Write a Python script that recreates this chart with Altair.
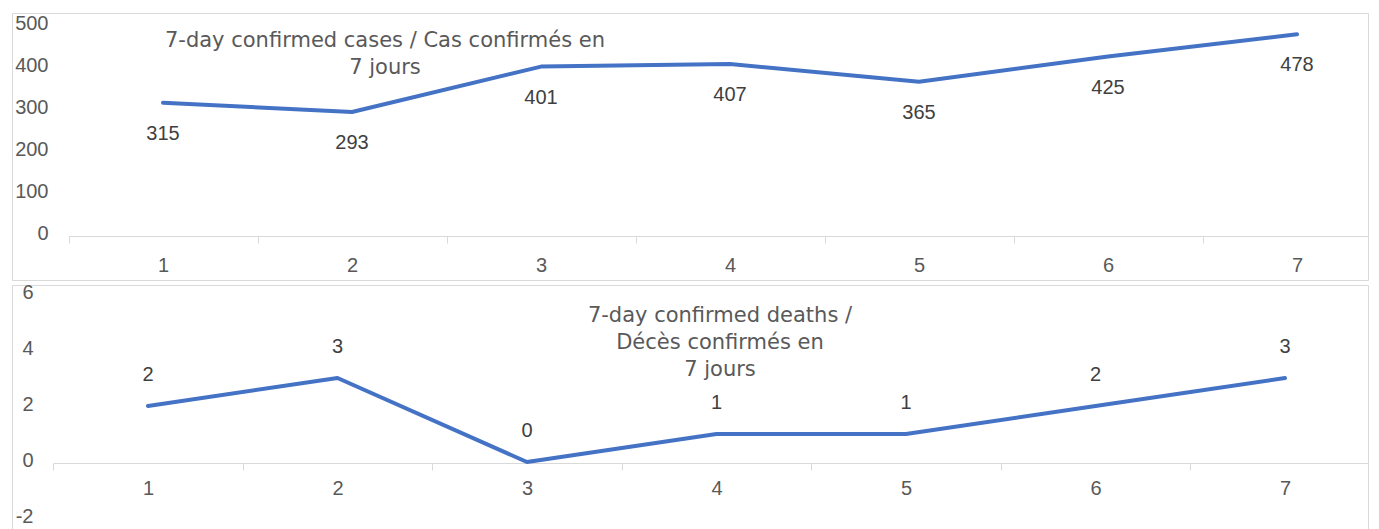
import altair as alt
import pandas as pd

days = [1, 2, 3, 4, 5, 6, 7]
cases = [315, 293, 401, 407, 365, 425, 478]
deaths = [2, 3, 0, 1, 1, 2, 3]
case_ticks = [0, 100, 200, 300, 400, 500]
death_ticks = [-2, 0, 2, 4, 6]
band_edges = [0.5, 1.5, 2.5, 3.5, 4.5, 5.5, 6.5]
cases_title = ["7-day confirmed cases / Cas confirmés en", "7 jours"]
deaths_title = ["7-day confirmed deaths /", "Décès confirmés en", "7 jours"]

BLUE = "#4472C4"
LINEC = "#d9d9d9"
TXT = "#595959"
LBL = "#404040"
NUMFONT = "Liberation Sans"
TFONT = "DejaVu Sans"
W = 1356

df_c = pd.DataFrame({"day": days, "value": cases})
df_d = pd.DataFrame({"day": days, "value": deaths})


def panel(df, y_dom, y_rng, y_vals, y_off, x_start, band, x_off, x_pad,
          lab_dy, title, title_x, title_y, height):
    x_end = 0.5 + (W - x_start) / band
    x = alt.X(
        "day:Q",
        scale=alt.Scale(domain=[0.5, x_end], range=[x_start, W], zero=False, nice=False),
        axis=alt.Axis(
            values=band_edges,
            labelExpr="format(datum.value + 0.5, 'd')",
            labelOffset=band / 2,
            labelFlush=False,
            labelOverlap=False,
            labelBound=False,
            offset=x_off,
            grid=False,
            title=None,
            domainColor=LINEC,
            tickColor=LINEC,
            tickSize=7,
            labelPadding=x_pad,
            labelBaseline="middle",
            labelFont=NUMFONT,
            labelFontSize=20,
            labelColor=TXT,
        ),
    )
    y = alt.Y(
        "value:Q",
        scale=alt.Scale(domain=y_dom, range=y_rng, zero=False, nice=False),
        axis=alt.Axis(
            values=y_vals,
            labelExpr="datum.value < 0 ? '-' + abs(datum.value) : '' + datum.value",
            offset=y_off,
            domain=False,
            ticks=False,
            grid=False,
            title=None,
            labelPadding=4,
            labelOffset=-2,
            labelFont=NUMFONT,
            labelFontSize=20,
            labelColor=TXT,
        ),
    )
    base = alt.Chart(df)
    line = base.mark_line(color=BLUE, strokeWidth=4, strokeCap="round",
                          strokeJoin="round").encode(x=x, y=y)
    text = base.mark_text(dy=lab_dy, font=NUMFONT, fontSize=20, color=LBL).encode(
        x=x, y=y, text="value:Q")
    ttl = alt.Chart(pd.DataFrame({"t": ["\n".join(title)]})).mark_text(
        lineBreak="\n", lineHeight=27, align="center", baseline="middle",
        font=TFONT, fontSize=21, color=TXT,
    ).encode(x=alt.value(title_x), y=alt.value(title_y), text="t:N")
    return alt.layer(line, text, ttl).properties(width=W, height=height)


top = panel(df_c, [0, 500], [222, 12], case_ticks, -40,
            56.5, 189.0, -44, 22, 31,
            cases_title, 373, 28, 267)
bottom = panel(df_d, [-2, 6], [233, 9], death_ticks, -25,
               41.25, 189.5, -70, 18, -31,
               deaths_title, 708, 31, 248)

chart = alt.vconcat(top, bottom, spacing=0).properties(
    padding={"left": 3, "top": 4, "right": 0, "bottom": 0},
    background="white",
).configure_view(stroke=LINEC, strokeWidth=1)

chart.save("out.html", embed_options={"renderer": "svg", "actions": False})
